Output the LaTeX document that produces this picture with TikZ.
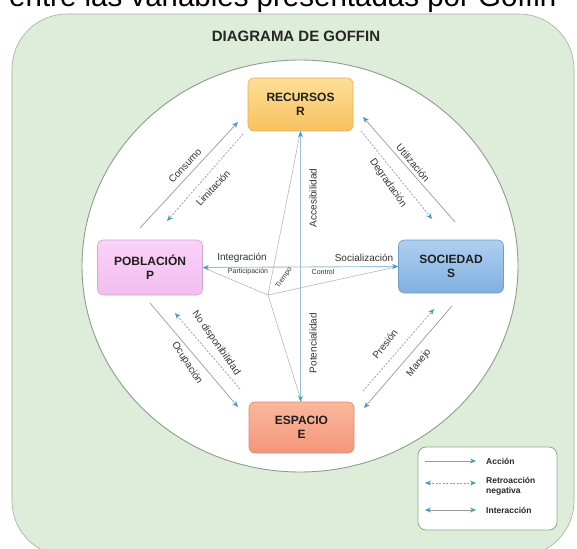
\documentclass[tikz,border=0pt]{standalone}
\usepackage{fontspec}
\setmainfont{Liberation Sans}
\usetikzlibrary{arrows.meta}
\definecolor{bggreen}{HTML}{DDEDD9}
\definecolor{bgborder}{HTML}{A3AFA1}
\definecolor{circborder}{HTML}{8E9C8C}
\definecolor{tipc}{HTML}{3F9DBF}
\definecolor{linec}{HTML}{9A9A9A}
\definecolor{bluel}{HTML}{9CC0DA}
\definecolor{labc}{HTML}{333333}
\definecolor{legborder}{HTML}{8FA88C}
\definecolor{rtop}{HTML}{FDDF96}
\definecolor{rbot}{HTML}{F8C160}
\definecolor{rbrd}{HTML}{E3AE55}
\definecolor{ptop}{HTML}{FAD2F8}
\definecolor{pbot}{HTML}{F3BDF0}
\definecolor{pbrd}{HTML}{C9A9CC}
\definecolor{stop}{HTML}{AFCFF0}
\definecolor{sbot}{HTML}{80B0E0}
\definecolor{sbrd}{HTML}{6E9CCB}
\definecolor{etop}{HTML}{F9B89C}
\definecolor{ebot}{HTML}{F4967A}
\definecolor{ebrd}{HTML}{DE8A6E}
\tikzset{
  boxnode/.style={rounded corners=6pt, minimum width=105pt, minimum height=53pt, align=center,
     font=\fontsize{12}{14}\selectfont\bfseries, text=black!88, line width=0.6pt},
  act/.style={draw=linec, line width=0.7pt, -{Stealth[length=6pt,width=5pt,color=tipc]}},
  fbk/.style={draw=linec, line width=0.7pt, dash pattern=on 2pt off 1.5pt, -{Stealth[length=6pt,width=5pt,color=tipc]}},
  inter/.style={draw=bluel, line width=0.9pt, {Stealth[length=6pt,width=5pt,color=tipc]}-{Stealth[length=6pt,width=5pt,color=tipc]}},
  tline/.style={draw=linec!80, line width=0.5pt},
  lab/.style={font=\fontsize{10}{12}\selectfont, text=labc, inner sep=0pt},
  slab/.style={font=\fontsize{7}{8}\selectfont, text=labc, inner sep=0pt},
  legtxt/.style={font=\fontsize{8.5}{10}\selectfont\bfseries, text=black!85, inner sep=0pt, anchor=west, align=left},
}
\begin{document}
\begin{tikzpicture}[x=1pt,y=-1pt]
\useasboundingbox (0,0) rectangle (577,548);
% caption (cut at top)
\node[font=\fontsize{29.5}{32}\selectfont, anchor=base west, inner sep=0pt] (cap) at (9,7) {entre las variables presentadas por Goffin};
% background
\path[fill=bggreen, draw=bgborder, line width=0.6pt, rounded corners=55pt] (12,14) rectangle (574,556);
\path[fill=white, draw=circborder, line width=0.9pt] (300,266) ellipse [x radius=218pt, y radius=206pt];
% title
\node[font=\fontsize{15}{17}\selectfont\bfseries, text=black!85] (title) at (296,36) {DIAGRAMA DE GOFFIN};
% boxes
\node[boxnode, draw=rbrd, top color=rtop, bottom color=rbot] (R) at (300.5,104.5) {RECURSOS\\R};
\node[boxnode, minimum height=55pt, draw=pbrd, top color=ptop, bottom color=pbot] (P) at (150,267.5) {POBLACIÓN\\P};
\node[boxnode, draw=sbrd, top color=stop, bottom color=sbot] (S) at (451,266.5) {SOCIEDAD\\S};
\node[boxnode, minimum height=51pt, draw=ebrd, top color=etop, bottom color=ebot] (E) at (301.5,427.5) {ESPACIO\\E};
% tiempo star
\coordinate (T) at (268,295);
\draw[tline] (T) -- (P.east);
\draw[tline] (T) -- (S.west);
\draw[tline] (T) -- (R.south);
\draw[tline] (T) -- (E.north);
% interactions
\draw[inter] (R.south) -- (R.south |- E.north);
\draw[inter] (P.east) -- (S.west);
% top-left
\coordinate (cA) at (140,228); \coordinate (cB) at (238,122);
\coordinate (lA) at (243,134); \coordinate (lB) at (167,221);
\draw[act] (cA) -- (cB);
\draw[fbk] (lA) -- (lB);
% top-right
\coordinate (uA) at (455,222); \coordinate (uB) at (363,117);
\coordinate (dA) at (361,131); \coordinate (dB) at (432,219);
\draw[act] (uA) -- (uB);
\draw[fbk] (dA) -- (dB);
% bottom-left
\coordinate (oA) at (150,303); \coordinate (oB) at (238,407);
\coordinate (nA) at (240,389); \coordinate (nB) at (175,313);
\draw[act] (oA) -- (oB);
\draw[fbk] (nA) -- (nB);
% bottom-right
\coordinate (pA) at (363,391); \coordinate (pB) at (434,309);
\coordinate (mA) at (452,306); \coordinate (mB) at (364,408);
\draw[fbk] (pA) -- (pB);
\draw[act] (mA) -- (mB);
% labels
\node[lab, rotate=47] (lcons) at (185,166) {Consumo};
\node[lab, rotate=47] (llim) at (213,188) {Limitación};
\node[lab, rotate=-50] (luti) at (413,163) {Utilización};
\node[lab, rotate=-55] (ldeg) at (388,183) {Degradación};
\node[lab, rotate=90] (lacc) at (313,198) {Accesibilidad};
\node[lab, rotate=90] (lpot) at (313,343) {Potencialidad};
\node[lab] (lint) at (242,258) {Integración};
\node[lab] (lsoc) at (364,258) {Socialización};
\node[slab] (lpar) at (248,272) {Participación};
\node[slab] (lcon) at (323,272) {Control};
\node[slab, rotate=55] (ltie) at (284,278) {Tiempo};
\node[lab, rotate=-55] (lnod) at (216,343) {No disponibilidad};
\node[lab, rotate=-57] (locu) at (187,363) {Ocupación};
\node[lab, rotate=52] (lpre) at (385,344) {Presión};
\node[lab, rotate=52] (lman) at (419,363) {Manejo};
% legend
\node[draw=legborder, fill=white, line width=0.8pt, rounded corners=8pt, minimum width=139pt, minimum height=83pt] (leg) at (487.5,488.5) {};
\coordinate (la1) at (425,461); \coordinate (lb1) at (476,461);
\coordinate (la2) at (425,483); \coordinate (lb2) at (476,483);
\coordinate (la3) at (425,510); \coordinate (lb3) at (476,510);
\draw[act] (la1) -- (lb1);
\draw[fbk, {Stealth[length=6pt,width=5pt,color=tipc]}-{Stealth[length=6pt,width=5pt,color=tipc]}] (la2) -- (lb2);
\draw[act, {Stealth[length=6pt,width=5pt,color=tipc]}-{Stealth[length=6pt,width=5pt,color=tipc]}] (la3) -- (lb3);
\node[legtxt] (lt1) at (486,461) {Acción};
\node[legtxt] (lt2) at (486,486) {Retroacción\\negativa};
\node[legtxt] (lt3) at (486,510) {Interacción};
\end{tikzpicture}
\end{document}
